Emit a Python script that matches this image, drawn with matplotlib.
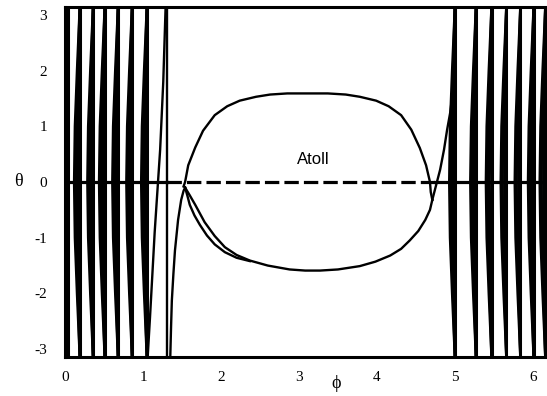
import numpy as np
import matplotlib.pyplot as plt

# Upper branch of the atoll (phi, theta)
upper_phi = [1.52, 1.54, 1.58, 1.67, 1.77, 1.92, 2.08, 2.24, 2.45, 2.63, 2.85, 3.11,
             3.37, 3.60, 3.78, 3.99, 4.15, 4.31, 4.44, 4.55, 4.63, 4.68, 4.69, 4.71]
upper_theta = [-0.08, 0.0, 0.30, 0.62, 0.92, 1.20, 1.36, 1.46, 1.53, 1.57, 1.59, 1.59,
               1.59, 1.57, 1.53, 1.46, 1.36, 1.20, 0.94, 0.61, 0.30, 0.0, -0.18, -0.32]

# Lower branches of the atoll
lower_phi = [1.54, 1.60, 1.67, 1.79, 1.92, 2.05, 2.20, 2.37, 2.60, 2.88, 3.08, 3.27,
             3.50, 3.78, 3.98, 4.17, 4.31, 4.42, 4.53, 4.62, 4.68, 4.71]
lower_theta = [-0.10, -0.24, -0.41, -0.72, -0.97, -1.17, -1.31, -1.41, -1.50, -1.57, -1.59, -1.59,
               -1.57, -1.51, -1.43, -1.32, -1.20, -1.05, -0.88, -0.68, -0.50, -0.32]
lower2_phi = [1.54, 1.57, 1.60, 1.66, 1.73, 1.82, 1.92, 2.05, 2.20, 2.37]
lower2_theta = [-0.10, -0.25, -0.41, -0.60, -0.77, -0.96, -1.12, -1.26, -1.36, -1.42]

# Branch climbing from the bottom into the cusp
rise_phi = [1.35, 1.36, 1.37, 1.39, 1.41, 1.45, 1.49, 1.52, 1.54]
rise_theta = [-3.14, -2.60, -2.13, -1.65, -1.23, -0.68, -0.32, -0.16, -0.10]

# Branch leaving the atoll on the right
exit_phi = [4.71, 4.76, 4.81, 4.86, 4.90, 4.94, 4.96, 4.99, 5.00]
exit_theta = [-0.32, -0.05, 0.22, 0.58, 0.94, 1.25, 1.48, 2.20, 3.14]

# Steep trajectory just before the separatrix
edge_phi = [1.06, 1.09, 1.15, 1.22, 1.26, 1.29]
edge_theta = [-3.14, -2.43, -0.90, 0.58, 1.80, 3.14]

# Rotating trajectories (stripes) on both sides
left_stripes = [0.04, 0.19, 0.36, 0.51, 0.68, 0.86, 1.05]
right_stripes = [5.00, 5.27, 5.47, 5.66, 5.84, 6.01, 6.16]
separatrix_phi = 1.31
lens_theta = [-np.pi, -2.0, -1.0, 0.0, 1.0, 2.0, np.pi]
lens_dphi = [0.0, -0.035, -0.062, -0.072, -0.062, -0.035, 0.0]
lens_scale = [0.35, 0.7, 1.0]

fig = plt.figure(figsize=(5.47, 3.96), dpi=100)
ax = fig.add_axes([65 / 547, 39 / 396, 490 / 547, 350 / 396])

lw = 1.7
for x0 in left_stripes + right_stripes:
    ax.plot([x0, x0], [-np.pi, np.pi], color='black', lw=2.2)
    for s in lens_scale:
        ax.plot(x0 + s * np.array(lens_dphi), lens_theta, color='black', lw=1.9)
ax.plot([separatrix_phi, separatrix_phi], [-np.pi, np.pi], color='black', lw=lw)
ax.plot(edge_phi, edge_theta, color='black', lw=lw)

# theta = 0 line: solid through the stripes, dashed across the atoll
ax.plot([0, separatrix_phi], [0, 0], color='black', lw=2.3)
ax.plot([4.75, 6.3], [0, 0], color='black', lw=2.3)
ax.plot([separatrix_phi, 4.75], [0, 0], color='black', lw=2.3, dashes=(4.5, 1.6))

ax.plot(upper_phi, upper_theta, color='black', lw=lw)
ax.plot(lower_phi, lower_theta, color='black', lw=lw)
ax.plot(lower2_phi, lower2_theta, color='black', lw=lw)
ax.plot(rise_phi, rise_theta, color='black', lw=lw)
ax.plot(exit_phi, exit_theta, color='black', lw=lw)

ax.text(3.18, 0.40, 'Atoll', ha='center', va='center', fontsize=12, family='Liberation Sans')

ax.set_xlim(0, 2 * np.pi)
ax.set_ylim(-np.pi, np.pi)
ax.set_xticks(range(0, 7))
ax.set_yticks(range(-3, 4))
ax.set_yticklabels(['-3', '-2', '-1', '0', '1', '2', '3'])
ax.tick_params(length=0, labelsize=11, pad=10)
ax.tick_params(axis='y', pad=13)
for lab in ax.get_xticklabels() + ax.get_yticklabels():
    lab.set_family('Liberation Serif')
for sp in ax.spines.values():
    sp.set_linewidth(2.2)

fig.text(18 / 547, 1 - 182 / 396, 'θ', ha='center', va='center', fontsize=13, family='Liberation Serif')
fig.text(336 / 547, 1 - 383 / 396, 'ϕ', ha='center', va='center', fontsize=13, family='Liberation Serif')

fig.savefig('out.png', dpi=100)
